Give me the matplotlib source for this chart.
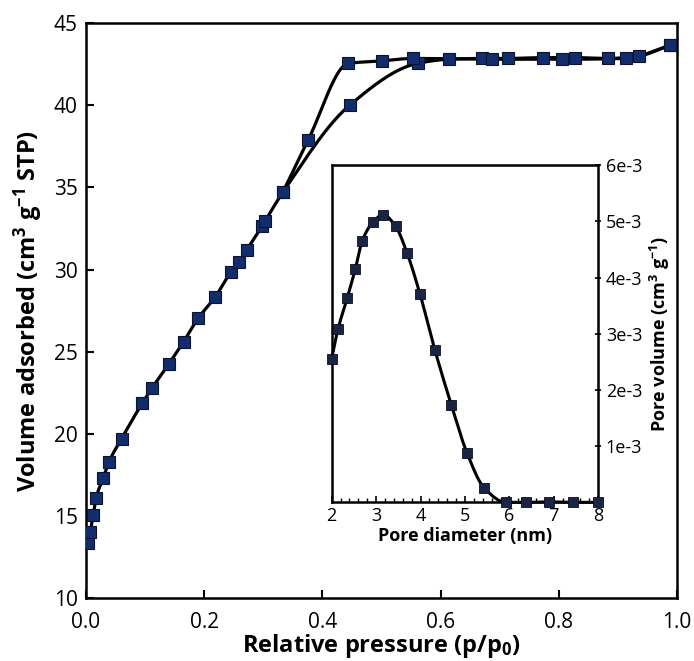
import numpy as np
import matplotlib
matplotlib.use("Agg")
import matplotlib.pyplot as plt

# N2 isotherm, adsorption branch (p/p0, cm3/g STP)
ads_p = [0.003, 0.007, 0.012, 0.017, 0.029, 0.039, 0.060, 0.095, 0.112, 0.140,
         0.165, 0.190, 0.218, 0.245, 0.258, 0.272, 0.298, 0.303, 0.333, 0.446,
         0.561, 0.614, 0.670, 0.714, 0.774, 0.828, 0.884, 0.935, 0.988]
ads_v = [13.35, 14.0, 15.05, 16.1, 17.3, 18.3, 19.7, 21.85, 22.8, 24.25,
         25.6, 27.05, 28.3, 29.85, 30.45, 31.2, 32.65, 32.95, 34.7, 40.0,
         42.55, 42.8, 42.85, 42.85, 42.9, 42.9, 42.85, 43.0, 43.65]
# desorption branch
des_p = [0.988, 0.913, 0.806, 0.687, 0.553, 0.500, 0.444, 0.376, 0.333]
des_v = [43.65, 42.85, 42.8, 42.8, 42.85, 42.7, 42.55, 37.9, 34.7]

# pore size distribution (inset)
pore_d = [2.0, 2.14, 2.35, 2.53, 2.69, 2.93, 3.16, 3.44, 3.70, 3.99,
          4.32, 4.69, 5.05, 5.43, 5.92, 6.37, 6.89, 7.43, 8.0]
pore_v = [2.56e-3, 3.08e-3, 3.64e-3, 4.15e-3, 4.66e-3, 4.99e-3, 5.12e-3, 4.91e-3,
          4.43e-3, 3.70e-3, 2.72e-3, 1.74e-3, 0.87e-3, 0.26e-3, 0.0, 0.0,
          0.01e-3, 0.0, 0.0]


def pchip(x, y, n=25):
    # monotone cubic through the points (no overshoot at the knees)
    order = np.argsort(x)
    x = np.asarray(x, float)[order]
    y = np.asarray(y, float)[order]
    h = np.diff(x)
    d = np.diff(y) / h
    m = np.zeros_like(y)
    for k in range(1, len(x) - 1):
        if d[k - 1] * d[k] > 0:
            w1 = 2 * h[k] + h[k - 1]
            w2 = h[k] + 2 * h[k - 1]
            m[k] = (w1 + w2) / (w1 / d[k - 1] + w2 / d[k])
    m[0] = d[0]
    m[-1] = d[-1]
    xs, ys = [], []
    t = np.linspace(0, 1, n, endpoint=False)
    for k in range(len(h)):
        h00 = 2 * t**3 - 3 * t**2 + 1
        h10 = t**3 - 2 * t**2 + t
        h01 = -2 * t**3 + 3 * t**2
        h11 = t**3 - t**2
        xs.extend(x[k] + t * h[k])
        ys.extend(h00 * y[k] + h10 * h[k] * m[k] + h01 * y[k + 1] + h11 * h[k] * m[k + 1])
    xs.append(x[-1])
    ys.append(y[-1])
    return np.array(xs), np.array(ys)


plt.rcParams["font.family"] = ["Open Sans", "DejaVu Sans"]
plt.rcParams["mathtext.fontset"] = "custom"
plt.rcParams["mathtext.rm"] = "Open Sans:bold"
plt.rcParams["mathtext.it"] = "Open Sans:bold"
plt.rcParams["mathtext.default"] = "rm"

face = "#122c6c"
edge = "#0a1430"

fig = plt.figure(figsize=(6.94, 6.61), dpi=100)
ax = fig.add_axes([0.124, 0.0953, 0.8515, 0.8697])

for xx, yy in ((ads_p, ads_v), (des_p, des_v)):
    sx, sy = pchip(xx, yy)
    ax.plot(sx, sy, color="black", lw=2.3, zorder=2)
    ax.plot(xx, yy, ls="none", marker="s", ms=9, mfc=face, mec=edge, mew=0.8, zorder=3)

ax.set_xlim(0, 1.0)
ax.set_ylim(10, 45)
ax.set_xticks(np.arange(0, 1.01, 0.2))
ax.set_xticklabels(["0.0", "0.2", "0.4", "0.6", "0.8", "1.0"])
ax.set_yticks(range(10, 46, 5))
ax.tick_params(direction="in", length=6, width=1.5, labelsize=15)
ax.tick_params(axis="x", pad=10)
ax.tick_params(axis="y", pad=6)
for s in ax.spines.values():
    s.set_linewidth(1.8)
ax.set_xlabel("Relative pressure (p/p$_0$)", fontsize=17, fontweight="bold", labelpad=-1)
ax.set_ylabel("Volume adsorbed (cm$^3$ g$^{-1}$ STP)", fontsize=17, fontweight="bold", labelpad=6)

# inset: pore size distribution
ins = fig.add_axes([0.478, 0.240, 0.384, 0.510])
sx, sy = pchip(pore_d, pore_v)
ins.plot(sx, sy, color="black", lw=2.2, zorder=2, clip_on=False)
ins.plot(pore_d, pore_v, ls="none", marker="s", ms=6.5, mfc="#1a2546", mec="#0a0f20",
         mew=0.6, zorder=3, clip_on=False)
ins.set_xlim(2, 8)
ins.set_ylim(0, 6e-3)
ins.set_xticks(range(2, 9))
ins.set_xticks(np.arange(2, 8.01, 0.2), minor=True)
ins.set_yticks([1e-3, 2e-3, 3e-3, 4e-3, 5e-3, 6e-3])
ins.set_yticklabels(["1e-3", "2e-3", "3e-3", "4e-3", "5e-3", "6e-3"])
ins.yaxis.tick_right()
ins.yaxis.set_label_position("right")
ins.tick_params(axis="x", which="major", direction="in", length=4, width=1.2, labelsize=13, pad=3)
ins.tick_params(axis="x", which="minor", direction="in", length=3, width=1)
ins.tick_params(axis="y", direction="inout", length=5, width=1.2, labelsize=13, pad=3)
for s in ins.spines.values():
    s.set_linewidth(1.8)
ins.set_xlabel("Pore diameter (nm)", fontsize=13, fontweight="bold", labelpad=2)
ins.set_ylabel("Pore volume (cm$^3$ g$^{-1}$)", fontsize=13, fontweight="bold", labelpad=4)

plt.savefig("out.png", dpi=100)
